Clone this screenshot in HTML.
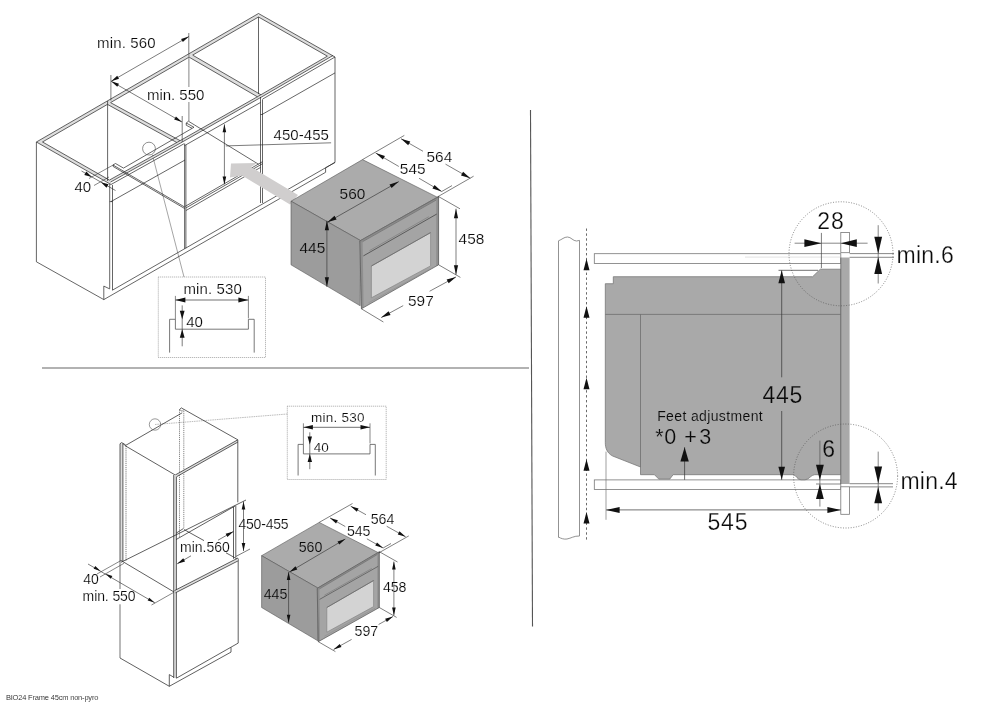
<!DOCTYPE html>
<html><head><meta charset="utf-8"><title>BIO24 Frame 45cm non-pyro</title>
<style>
html,body{margin:0;padding:0;background:#fff;}
body{width:1000px;height:707px;overflow:hidden;font-family:"Liberation Sans",sans-serif;}
svg{display:block;font-family:"Liberation Sans",sans-serif;}
</style></head><body>
<svg width="1000" height="707" viewBox="0 0 1000 707">
<rect width="1000" height="707" fill="#fff"/>
<defs><filter id="idf" x="0" y="0" width="1000" height="707" filterUnits="userSpaceOnUse"><feOffset dx="0" dy="0"/></filter></defs>
<g filter="url(#idf)">
<line x1="42.00" y1="368.00" x2="529.00" y2="368.00" stroke="#b2b2b2" stroke-width="2" />
<line x1="530.50" y1="110.00" x2="532.50" y2="626.50" stroke="#555" stroke-width="1.1" />
<text x="5.90" y="699.80" font-size="7.5" text-anchor="start" fill="#222" textLength="92.5" lengthAdjust="spacing" stroke="#fff" stroke-width="0.08" paint-order="fill stroke" >BIO24 Frame 45cm non-pyro</text>
<path d="M558.50,537.50 L558.50,240.80" fill="none" stroke="#777" stroke-width="0.8" stroke-linejoin="miter" />
<path d="M558.5,240.8 C562,239.5 564,237 567.5,237 C571,237 573,241 576.5,241 L579.5,240.4" fill="none" stroke="#777" stroke-width="0.8"/>
<path d="M579.50,240.40 L579.50,536.00" fill="none" stroke="#777" stroke-width="0.8" stroke-linejoin="miter" />
<path d="M558.5,537 C561,538.5 564,539.5 567,539 C571,538.3 574,535.8 579.5,536" fill="none" stroke="#777" stroke-width="0.8"/>
<line x1="586.50" y1="228.50" x2="586.50" y2="541.80" stroke="#444" stroke-width="0.8" stroke-dasharray="2.4 2.5"/>
<polygon points="586.50,258.80 589.50,270.30 583.50,270.30" fill="#111" stroke="none" stroke-width="0"/>
<polygon points="586.50,306.30 589.50,317.80 583.50,317.80" fill="#111" stroke="none" stroke-width="0"/>
<polygon points="586.50,377.80 589.50,389.30 583.50,389.30" fill="#111" stroke="none" stroke-width="0"/>
<polygon points="586.50,459.20 589.50,470.70 583.50,470.70" fill="#111" stroke="none" stroke-width="0"/>
<polygon points="586.50,512.00 589.50,523.50 583.50,523.50" fill="#111" stroke="none" stroke-width="0"/>
<rect x="594.3" y="253.7" width="246.5" height="9.7" fill="#fff" stroke="#777" stroke-width="0.8"/>
<rect x="594.3" y="479.9" width="246.5" height="9.5" fill="#fff" stroke="#777" stroke-width="0.8"/>
<line x1="745.00" y1="257.10" x2="840.80" y2="257.10" stroke="#cfcfcf" stroke-width="0.6" />
<path d="M613.3,276.7 L812.6,276.7 L820.3,269.2 L840.8,269.2 L840.8,474.7 L814.8,474.7 C811,474.7 809,479.8 805,479.8 L801,479.8 C797,479.8 796,474.7 793,474.7 L673.1,474.7 L669.8,479.1 L658.8,479.1 L654.4,474.7 L640.5,474.7 L640.5,467 L612.6,456 C607,453 605.3,448 605.3,442.8 L605.3,283.7 L613.3,283.7 Z" fill="#a9a9a9" stroke="#6e6e6e" stroke-width="0.7"/>
<line x1="605.30" y1="314.40" x2="840.80" y2="314.40" stroke="#666" stroke-width="0.7" />
<line x1="640.50" y1="314.40" x2="640.50" y2="467.00" stroke="#666" stroke-width="0.7" />
<rect x="840.8" y="257.5" width="8.8" height="226.5" fill="#a9a9a9" stroke="none"/>
<line x1="840.80" y1="257.50" x2="840.80" y2="484.00" stroke="#666" stroke-width="0.8" />
<rect x="840.8" y="232.5" width="8.8" height="20.2" fill="#fff" stroke="#777" stroke-width="0.8"/>
<rect x="840.8" y="486.8" width="8.8" height="27.5" fill="#fff" stroke="#777" stroke-width="0.8"/>
<circle cx="841" cy="253.8" r="52" fill="none" stroke="#555" stroke-width="0.7" stroke-dasharray="1 1.6"/>
<circle cx="845.6" cy="476" r="52" fill="none" stroke="#555" stroke-width="0.7" stroke-dasharray="1 1.6"/>
<line x1="794.60" y1="243.20" x2="867.60" y2="243.20" stroke="#555" stroke-width="0.7" />
<polygon points="821.40,243.20 804.40,247.10 804.40,239.30" fill="#111" stroke="none" stroke-width="0"/>
<polygon points="840.80,243.20 856.80,239.30 856.80,247.10" fill="#111" stroke="none" stroke-width="0"/>
<line x1="821.40" y1="232.90" x2="821.40" y2="268.10" stroke="#444" stroke-width="0.7" />
<line x1="878.20" y1="225.20" x2="878.20" y2="283.50" stroke="#555" stroke-width="0.7" />
<polygon points="878.20,253.80 874.30,236.80 882.10,236.80" fill="#111" stroke="none" stroke-width="0"/>
<polygon points="878.20,257.10 882.10,274.10 874.30,274.10" fill="#111" stroke="none" stroke-width="0"/>
<line x1="849.60" y1="253.60" x2="894.00" y2="253.60" stroke="#555" stroke-width="0.7" />
<line x1="849.60" y1="257.30" x2="894.00" y2="257.30" stroke="#555" stroke-width="0.7" />
<line x1="781.70" y1="270.30" x2="781.70" y2="377.30" stroke="#333" stroke-width="0.7" />
<line x1="781.70" y1="411.00" x2="781.70" y2="479.80" stroke="#333" stroke-width="0.7" />
<polygon points="781.70,270.30 785.00,283.30 778.40,283.30" fill="#111" stroke="none" stroke-width="0"/>
<polygon points="781.70,479.80 778.40,466.80 785.00,466.80" fill="#111" stroke="none" stroke-width="0"/>
<line x1="778.50" y1="270.30" x2="818.10" y2="270.30" stroke="#333" stroke-width="0.7" />
<line x1="819.90" y1="440.60" x2="819.90" y2="506.60" stroke="#555" stroke-width="0.7" />
<polygon points="819.90,480.20 816.00,464.80 823.80,464.80" fill="#111" stroke="none" stroke-width="0"/>
<polygon points="819.90,484.00 823.80,499.00 816.00,499.00" fill="#111" stroke="none" stroke-width="0"/>
<line x1="816.00" y1="484.00" x2="840.80" y2="484.00" stroke="#555" stroke-width="0.7" />
<line x1="878.20" y1="451.60" x2="878.20" y2="510.60" stroke="#555" stroke-width="0.7" />
<polygon points="878.20,483.50 874.30,466.50 882.10,466.50" fill="#111" stroke="none" stroke-width="0"/>
<polygon points="878.20,486.80 882.10,503.30 874.30,503.30" fill="#111" stroke="none" stroke-width="0"/>
<line x1="849.60" y1="483.70" x2="893.00" y2="483.70" stroke="#555" stroke-width="0.7" />
<line x1="849.60" y1="486.90" x2="893.00" y2="486.90" stroke="#555" stroke-width="0.7" />
<line x1="606.00" y1="509.90" x2="840.80" y2="509.90" stroke="#333" stroke-width="0.7" />
<polygon points="606.00,509.90 619.60,506.90 619.60,512.90" fill="#111" stroke="none" stroke-width="0"/>
<polygon points="840.80,509.90 827.40,512.90 827.40,506.90" fill="#111" stroke="none" stroke-width="0"/>
<line x1="606.00" y1="451.60" x2="606.00" y2="519.80" stroke="#777" stroke-width="0.7" />
<line x1="684.60" y1="447.20" x2="684.60" y2="479.80" stroke="#333" stroke-width="0.7" />
<polygon points="684.60,447.20 688.80,461.50 680.40,461.50" fill="#111" stroke="none" stroke-width="0"/>
<text x="817.30" y="229.20" font-size="23" text-anchor="start" fill="#0a0a0a" textLength="26.5" lengthAdjust="spacing" stroke="#fff" stroke-width="0.25" paint-order="fill stroke" >28</text>
<text x="896.50" y="262.60" font-size="23" text-anchor="start" fill="#0a0a0a" textLength="57.3" lengthAdjust="spacing" stroke="#fff" stroke-width="0.25" paint-order="fill stroke" >min.6</text>
<text x="762.40" y="402.60" font-size="23" text-anchor="start" fill="#0a0a0a" textLength="39.8" lengthAdjust="spacing" stroke="#a9a9a9" stroke-width="0.25" paint-order="fill stroke" >445</text>
<text x="657.20" y="420.50" font-size="14" text-anchor="start" fill="#0a0a0a" textLength="105.5" lengthAdjust="spacing" stroke="#a9a9a9" stroke-width="0.15" paint-order="fill stroke" >Feet adjustment</text>
<text x="655.30" y="444.00" font-size="21.5" text-anchor="start" fill="#0a0a0a" stroke="#a9a9a9" stroke-width="0.24" paint-order="fill stroke" >*</text>
<text x="664.20" y="444.00" font-size="21.5" text-anchor="start" fill="#0a0a0a" stroke="#a9a9a9" stroke-width="0.24" paint-order="fill stroke" >0</text>
<text x="684.20" y="444.00" font-size="21.5" text-anchor="start" fill="#0a0a0a" stroke="#a9a9a9" stroke-width="0.24" paint-order="fill stroke" >+</text>
<text x="699.30" y="444.00" font-size="21.5" text-anchor="start" fill="#0a0a0a" stroke="#a9a9a9" stroke-width="0.24" paint-order="fill stroke" >3</text>
<text x="822.30" y="457.10" font-size="23" text-anchor="start" fill="#0a0a0a" stroke="#a9a9a9" stroke-width="0.25" paint-order="fill stroke" >6</text>
<text x="900.50" y="489.00" font-size="23" text-anchor="start" fill="#0a0a0a" textLength="57" lengthAdjust="spacing" stroke="#fff" stroke-width="0.25" paint-order="fill stroke" >min.4</text>
<text x="707.50" y="529.70" font-size="23" text-anchor="start" fill="#0a0a0a" textLength="40" lengthAdjust="spacing" stroke="#fff" stroke-width="0.25" paint-order="fill stroke" >545</text>
<rect x="158.3" y="277" width="107.20" height="80.50" fill="none" stroke="#666" stroke-width="0.65" stroke-dasharray="0.9 1.1"/>
<path d="M169.60,352.60 L169.60,319.30 L175.40,319.30 L175.40,329.20 L248.40,329.20 L248.40,319.30 L254.20,319.30 L254.20,352.60" fill="none" stroke="#555" stroke-width="0.8" stroke-linejoin="miter" />
<line x1="175.40" y1="295.90" x2="175.40" y2="319.30" stroke="#555" stroke-width="0.7" />
<line x1="248.40" y1="295.90" x2="248.40" y2="318.30" stroke="#555" stroke-width="0.7" />
<line x1="175.40" y1="300.00" x2="248.40" y2="300.00" stroke="#333" stroke-width="0.7" />
<polygon points="175.40,300.00 185.40,297.60 185.40,302.40" fill="#111" stroke="none" stroke-width="0"/>
<polygon points="248.40,300.00 238.40,302.40 238.40,297.60" fill="#111" stroke="none" stroke-width="0"/>
<line x1="182.20" y1="305.40" x2="182.20" y2="346.30" stroke="#444" stroke-width="0.7" />
<polygon points="182.20,319.30 179.80,310.80 184.60,310.80" fill="#111" stroke="none" stroke-width="0"/>
<polygon points="182.20,329.20 184.60,337.70 179.80,337.70" fill="#111" stroke="none" stroke-width="0"/>
<text x="183.50" y="294.10" font-size="15" text-anchor="start" fill="#0a0a0a" textLength="58.3" lengthAdjust="spacing" stroke="#fff" stroke-width="0.16" paint-order="fill stroke" >min. 530</text>
<text x="186.20" y="327.00" font-size="15" text-anchor="start" fill="#0a0a0a" stroke="#fff" stroke-width="0.16" paint-order="fill stroke" >40</text>
<rect x="287.3" y="406.2" width="98.90" height="73.30" fill="none" stroke="#666" stroke-width="0.65" stroke-dasharray="0.9 1.1"/>
<path d="M298.10,475.50 L298.10,444.40 L303.40,444.40 L303.40,453.90 L370.00,453.90 L370.00,444.40 L375.30,444.40 L375.30,475.50" fill="none" stroke="#555" stroke-width="0.8" stroke-linejoin="miter" />
<line x1="303.40" y1="423.30" x2="303.40" y2="444.40" stroke="#555" stroke-width="0.7" />
<line x1="370.00" y1="423.30" x2="370.00" y2="443.40" stroke="#555" stroke-width="0.7" />
<line x1="303.40" y1="427.30" x2="370.00" y2="427.30" stroke="#333" stroke-width="0.7" />
<polygon points="303.40,427.30 312.90,425.10 312.90,429.50" fill="#111" stroke="none" stroke-width="0"/>
<polygon points="370.00,427.30 360.50,429.50 360.50,425.10" fill="#111" stroke="none" stroke-width="0"/>
<line x1="309.80" y1="432.30" x2="309.80" y2="469.20" stroke="#444" stroke-width="0.7" />
<polygon points="309.80,444.40 307.60,436.40 312.00,436.40" fill="#111" stroke="none" stroke-width="0"/>
<polygon points="309.80,453.90 312.00,461.90 307.60,461.90" fill="#111" stroke="none" stroke-width="0"/>
<text x="311.00" y="421.50" font-size="13.5" text-anchor="start" fill="#0a0a0a" textLength="53.5" lengthAdjust="spacing" stroke="#fff" stroke-width="0.15" paint-order="fill stroke" >min. 530</text>
<text x="313.80" y="451.70" font-size="13.5" text-anchor="start" fill="#0a0a0a" stroke="#fff" stroke-width="0.15" paint-order="fill stroke" >40</text>
<line x1="152.40" y1="154.80" x2="184.00" y2="277.00" stroke="#4a4a4a" stroke-width="0.5" />
<line x1="155.00" y1="424.50" x2="287.30" y2="414.00" stroke="#888" stroke-width="0.55" stroke-dasharray="1.6 0.7"/>
<polygon points="36.40,142.00 111.00,184.50 109.40,180.09 42.50,141.97" fill="#dedede" stroke="none" stroke-width="0"/>
<polygon points="36.40,142.00 258.50,13.50 258.50,17.00 42.50,141.97" fill="#dedede" stroke="none" stroke-width="0"/>
<polygon points="258.50,13.50 335.00,57.00 327.35,56.15 258.50,17.00" fill="#dedede" stroke="none" stroke-width="0"/>
<polygon points="109.60,179.98 180.00,140.70 261.00,94.70 328.40,55.54 333.00,55.46 261.00,97.30 180.00,143.30 110.60,182.02" fill="#dedede" stroke="none" stroke-width="0"/>
<path d="M36.40,142.00 L111.00,184.50" fill="none" stroke="#242424" stroke-width="0.7" stroke-linejoin="miter" />
<path d="M36.40,142.00 L258.50,13.50" fill="none" stroke="#242424" stroke-width="0.7" stroke-linejoin="miter" />
<path d="M258.50,13.50 L335.00,57.00" fill="none" stroke="#242424" stroke-width="0.7" stroke-linejoin="miter" />
<line x1="42.50" y1="141.97" x2="109.40" y2="180.09" stroke="#242424" stroke-width="0.7" />
<line x1="42.50" y1="141.97" x2="107.45" y2="104.40" stroke="#242424" stroke-width="0.7" />
<line x1="110.53" y1="102.61" x2="189.08" y2="57.17" stroke="#242424" stroke-width="0.7" />
<line x1="192.62" y1="55.12" x2="258.50" y2="17.00" stroke="#242424" stroke-width="0.7" />
<line x1="258.50" y1="17.00" x2="327.35" y2="56.15" stroke="#242424" stroke-width="0.7" />
<polygon points="107.45,104.40 176.75,142.51 180.08,140.65 110.53,102.61" fill="#dedede" stroke="none" stroke-width="0"/>
<line x1="107.45" y1="104.40" x2="176.75" y2="142.51" stroke="#242424" stroke-width="0.7" />
<line x1="110.53" y1="102.61" x2="180.08" y2="140.65" stroke="#242424" stroke-width="0.7" />
<polygon points="189.08,57.17 257.36,96.77 260.93,94.74 192.62,55.12" fill="#dedede" stroke="none" stroke-width="0"/>
<line x1="189.08" y1="57.17" x2="257.36" y2="96.77" stroke="#242424" stroke-width="0.7" />
<line x1="192.62" y1="55.12" x2="260.93" y2="94.74" stroke="#242424" stroke-width="0.7" />
<path d="M109.40,180.09 L111.00,179.20 L180.00,140.70 L261.00,94.70 L327.35,56.15" fill="none" stroke="#242424" stroke-width="0.7" stroke-linejoin="miter" />
<path d="M110.40,182.13 L111.00,181.80 L180.00,143.30 L261.00,97.30 L333.00,55.46" fill="none" stroke="#242424" stroke-width="0.7" stroke-linejoin="miter" />
<path d="M111.00,184.50 L180.00,146.00 L183.90,143.79" fill="none" stroke="#242424" stroke-width="0.7" stroke-linejoin="miter" />
<path d="M262.50,99.13 L335.00,57.00" fill="none" stroke="#242424" stroke-width="0.7" stroke-linejoin="miter" />
<path d="M184.60,145.59 L260.50,102.48" fill="none" stroke="#242424" stroke-width="0.7" stroke-linejoin="miter" />
<line x1="36.40" y1="142.00" x2="36.40" y2="261.80" stroke="#242424" stroke-width="0.7" />
<line x1="109.70" y1="184.00" x2="109.70" y2="288.80" stroke="#242424" stroke-width="0.7" />
<line x1="112.50" y1="185.00" x2="112.50" y2="290.20" stroke="#242424" stroke-width="0.7" />
<line x1="258.50" y1="17.00" x2="258.50" y2="94.00" stroke="#242424" stroke-width="0.7" />
<line x1="335.00" y1="57.00" x2="335.00" y2="162.40" stroke="#242424" stroke-width="0.7" />
<line x1="184.60" y1="143.50" x2="184.60" y2="248.80" stroke="#242424" stroke-width="0.7" />
<line x1="185.90" y1="145.00" x2="185.90" y2="248.20" stroke="#242424" stroke-width="0.7" />
<line x1="260.50" y1="97.00" x2="260.50" y2="203.00" stroke="#242424" stroke-width="0.7" />
<line x1="262.50" y1="99.50" x2="262.50" y2="203.00" stroke="#242424" stroke-width="0.7" />
<line x1="107.60" y1="101.00" x2="107.60" y2="181.00" stroke="#242424" stroke-width="0.7" />
<line x1="188.90" y1="54.50" x2="188.90" y2="87.00" stroke="#777" stroke-width="0.9" />
<line x1="188.90" y1="102.00" x2="188.90" y2="121.00" stroke="#777" stroke-width="0.9" />
<line x1="111.00" y1="201.60" x2="185.00" y2="160.00" stroke="#242424" stroke-width="0.7" />
<line x1="109.70" y1="201.60" x2="112.50" y2="201.60" stroke="#242424" stroke-width="0.7" />
<line x1="262.00" y1="114.50" x2="335.00" y2="72.90" stroke="#242424" stroke-width="0.7" />
<line x1="260.50" y1="114.50" x2="262.50" y2="114.50" stroke="#242424" stroke-width="0.7" />
<line x1="112.40" y1="290.20" x2="335.00" y2="162.40" stroke="#242424" stroke-width="0.7" />
<line x1="103.80" y1="299.60" x2="325.60" y2="172.30" stroke="#242424" stroke-width="0.7" />
<line x1="36.40" y1="261.80" x2="103.80" y2="299.60" stroke="#242424" stroke-width="0.7" />
<path d="M103.80,299.60 L103.80,286.10 L109.70,288.90" fill="none" stroke="#242424" stroke-width="0.7" stroke-linejoin="miter" />
<path d="M335.00,162.40 L325.60,167.80 L325.60,172.30" fill="none" stroke="#242424" stroke-width="0.7" stroke-linejoin="miter" />
<line x1="185.20" y1="206.37" x2="262.50" y2="161.69" stroke="#242424" stroke-width="0.7" />
<line x1="185.90" y1="207.97" x2="262.50" y2="163.69" stroke="#242424" stroke-width="0.7" />
<line x1="185.90" y1="210.57" x2="260.50" y2="167.45" stroke="#242424" stroke-width="0.7" />
<line x1="113.00" y1="165.00" x2="184.60" y2="207.00" stroke="#242424" stroke-width="0.7" />
<line x1="113.20" y1="166.50" x2="184.60" y2="208.50" stroke="#242424" stroke-width="0.7" />
<line x1="188.50" y1="121.25" x2="258.60" y2="164.30" stroke="#242424" stroke-width="0.7" />
<path d="M123.50,168.10 L115.50,163.50 L113.00,165.00 L113.20,166.50" fill="none" stroke="#242424" stroke-width="0.7" stroke-linejoin="miter" />
<line x1="123.50" y1="168.10" x2="194.00" y2="127.25" stroke="#242424" stroke-width="0.7" />
<path d="M188.50,121.25 L186.25,123.00 L186.25,125.25 L192.00,128.25" fill="none" stroke="#242424" stroke-width="0.7" stroke-linejoin="miter" />
<line x1="186.25" y1="123.00" x2="194.00" y2="127.25" stroke="#242424" stroke-width="0.7" />
<circle cx="149" cy="148.6" r="6.4" fill="none" stroke="#444" stroke-width="0.6"/>
<line x1="110.90" y1="75.00" x2="110.90" y2="100.50" stroke="#242424" stroke-width="0.6" />
<line x1="188.80" y1="33.00" x2="188.80" y2="54.50" stroke="#242424" stroke-width="0.6" />
<line x1="111.20" y1="81.30" x2="188.90" y2="36.50" stroke="#242424" stroke-width="0.6" />
<polygon points="111.20,81.30 117.23,75.74 119.03,78.86" fill="#111" stroke="none" stroke-width="0"/>
<polygon points="188.90,36.50 182.87,42.06 181.07,38.94" fill="#111" stroke="none" stroke-width="0"/>
<line x1="111.20" y1="81.30" x2="182.00" y2="122.00" stroke="#242424" stroke-width="0.6" />
<polygon points="111.20,81.30 119.03,83.73 117.24,86.85" fill="#111" stroke="none" stroke-width="0"/>
<polygon points="182.00,122.00 174.17,119.57 175.96,116.45" fill="#111" stroke="none" stroke-width="0"/>
<line x1="182.20" y1="116.00" x2="182.20" y2="142.00" stroke="#242424" stroke-width="0.6" />
<line x1="81.50" y1="171.00" x2="115.50" y2="190.50" stroke="#242424" stroke-width="0.6" />
<polygon points="91.80,176.90 84.30,174.90 86.29,171.43" fill="#111" stroke="none" stroke-width="0"/>
<polygon points="101.00,182.20 108.50,184.20 106.51,187.67" fill="#111" stroke="none" stroke-width="0"/>
<line x1="89.00" y1="178.50" x2="113.50" y2="164.80" stroke="#242424" stroke-width="0.55" />
<line x1="94.00" y1="185.50" x2="109.00" y2="177.00" stroke="#242424" stroke-width="0.55" />
<line x1="224.40" y1="124.30" x2="224.40" y2="184.30" stroke="#242424" stroke-width="0.6" />
<polygon points="224.40,124.30 226.20,132.30 222.60,132.30" fill="#111" stroke="none" stroke-width="0"/>
<polygon points="224.40,184.50 222.60,176.50 226.20,176.50" fill="#111" stroke="none" stroke-width="0"/>
<line x1="225.80" y1="145.90" x2="331.10" y2="142.80" stroke="#242424" stroke-width="0.6" />
<polygon points="231.00,163.50 257.00,163.00 251.00,167.00 298.00,195.00 290.00,204.50 242.00,175.50 230.00,177.50" fill="#d0cece" stroke="none" stroke-width="0"/>
<text x="97.00" y="48.00" font-size="15" text-anchor="start" fill="#0a0a0a" textLength="58.6" lengthAdjust="spacing" stroke="#fff" stroke-width="0.16" paint-order="fill stroke" >min. 560</text>
<text x="147.00" y="100.00" font-size="15" text-anchor="start" fill="#0a0a0a" textLength="57.3" lengthAdjust="spacing" stroke="#fff" stroke-width="0.16" paint-order="fill stroke" >min. 550</text>
<text x="74.50" y="191.60" font-size="15" text-anchor="start" fill="#0a0a0a" stroke="#fff" stroke-width="0.16" paint-order="fill stroke" >40</text>
<text x="273.50" y="139.60" font-size="15" text-anchor="start" fill="#0a0a0a" textLength="55.4" lengthAdjust="spacing" stroke="#fff" stroke-width="0.16" paint-order="fill stroke" >450-455</text>
<rect x="120" y="443.5" width="2.9" height="117.5" fill="#dedede"/>
<line x1="120.00" y1="443.80" x2="120.00" y2="561.00" stroke="#222" stroke-width="0.72" />
<line x1="122.90" y1="443.60" x2="122.90" y2="561.00" stroke="#222" stroke-width="0.72" />
<line x1="126.00" y1="446.00" x2="126.00" y2="561.50" stroke="#222" stroke-width="0.6" stroke-dasharray="1.2 0.9"/>
<path d="M120.00,443.80 L121.60,442.60 L125.60,444.90 L125.60,446.00" fill="none" stroke="#222" stroke-width="0.72" stroke-linejoin="miter" />
<line x1="122.90" y1="443.60" x2="125.60" y2="446.00" stroke="#222" stroke-width="0.5" />
<line x1="179.50" y1="409.60" x2="179.50" y2="537.00" stroke="#333" stroke-width="0.6" stroke-dasharray="1.2 0.9"/>
<line x1="183.80" y1="411.00" x2="183.80" y2="528.50" stroke="#333" stroke-width="0.6" stroke-dasharray="1.2 0.9"/>
<path d="M179.50,409.60 L181.30,407.90" fill="none" stroke="#222" stroke-width="0.72" stroke-linejoin="miter" />
<path d="M179.50,409.60 L182.20,411.30 L183.90,409.50" fill="none" stroke="#222" stroke-width="0.5" stroke-linejoin="miter" />
<line x1="126.00" y1="445.20" x2="182.20" y2="412.80" stroke="#222" stroke-width="0.72" />
<line x1="181.30" y1="407.90" x2="237.80" y2="439.80" stroke="#222" stroke-width="0.72" />
<line x1="126.00" y1="446.20" x2="175.20" y2="475.00" stroke="#222" stroke-width="0.72" />
<polygon points="175.20,475.00 237.80,439.80 237.80,442.10 176.80,476.60" fill="#dedede" stroke="none" stroke-width="0"/>
<line x1="175.20" y1="475.00" x2="237.80" y2="439.80" stroke="#222" stroke-width="0.72" />
<line x1="176.80" y1="476.60" x2="237.80" y2="442.10" stroke="#222" stroke-width="0.72" />
<rect x="173.7" y="475.5" width="2.7" height="202.5" fill="#dedede"/>
<line x1="173.70" y1="475.00" x2="173.70" y2="678.00" stroke="#222" stroke-width="0.72" />
<line x1="176.40" y1="476.50" x2="176.40" y2="678.20" stroke="#222" stroke-width="0.72" />
<line x1="237.80" y1="439.80" x2="237.80" y2="502.30" stroke="#222" stroke-width="0.72" />
<line x1="238.20" y1="558.50" x2="238.20" y2="643.10" stroke="#222" stroke-width="0.72" />
<line x1="233.50" y1="507.00" x2="233.50" y2="558.80" stroke="#222" stroke-width="0.72" />
<line x1="235.80" y1="505.60" x2="235.80" y2="557.60" stroke="#222" stroke-width="0.72" />
<line x1="120.00" y1="561.00" x2="120.00" y2="589.00" stroke="#5a5a5a" stroke-width="0.85" />
<line x1="120.00" y1="604.30" x2="120.00" y2="658.00" stroke="#5a5a5a" stroke-width="0.85" />
<line x1="121.00" y1="562.30" x2="246.00" y2="500.00" stroke="#222" stroke-width="0.72" />
<line x1="176.20" y1="539.50" x2="235.00" y2="506.00" stroke="#222" stroke-width="0.72" />
<line x1="183.50" y1="528.50" x2="176.40" y2="533.00" stroke="#222" stroke-width="0.72" />
<line x1="184.00" y1="529.50" x2="204.00" y2="540.60" stroke="#222" stroke-width="0.72" />
<line x1="226.00" y1="552.80" x2="238.00" y2="559.50" stroke="#222" stroke-width="0.72" />
<line x1="121.00" y1="560.50" x2="174.00" y2="592.00" stroke="#222" stroke-width="0.72" />
<polygon points="175.60,590.20 238.00,558.00 238.00,560.80 176.40,592.60" fill="#dedede" stroke="none" stroke-width="0"/>
<line x1="174.50" y1="590.60" x2="238.00" y2="558.00" stroke="#222" stroke-width="0.72" />
<line x1="175.50" y1="592.80" x2="238.20" y2="560.80" stroke="#222" stroke-width="0.72" />
<line x1="235.80" y1="556.50" x2="250.00" y2="549.00" stroke="#222" stroke-width="0.6" />
<line x1="120.00" y1="658.00" x2="169.30" y2="686.30" stroke="#222" stroke-width="0.72" />
<path d="M169.30,686.30 L169.30,674.60 L173.70,677.20" fill="none" stroke="#222" stroke-width="0.72" stroke-linejoin="miter" />
<line x1="176.40" y1="678.20" x2="238.20" y2="643.10" stroke="#222" stroke-width="0.72" />
<line x1="169.30" y1="686.30" x2="231.00" y2="652.10" stroke="#222" stroke-width="0.72" />
<line x1="231.00" y1="647.40" x2="231.00" y2="652.10" stroke="#222" stroke-width="0.72" />
<circle cx="155" cy="424.5" r="5.7" fill="none" stroke="#555" stroke-width="0.6"/>
<line x1="88.00" y1="564.00" x2="155.00" y2="603.00" stroke="#222" stroke-width="0.6" />
<polygon points="100.50,571.00 93.65,568.86 95.26,566.10" fill="#111" stroke="none" stroke-width="0"/>
<polygon points="105.50,573.80 112.35,575.94 110.74,578.70" fill="#111" stroke="none" stroke-width="0"/>
<polygon points="154.50,602.60 147.65,600.46 149.26,597.70" fill="#111" stroke="none" stroke-width="0"/>
<line x1="97.00" y1="574.00" x2="121.00" y2="560.50" stroke="#222" stroke-width="0.55" />
<line x1="100.00" y1="577.00" x2="124.00" y2="563.30" stroke="#222" stroke-width="0.55" />
<line x1="151.50" y1="605.00" x2="173.50" y2="592.50" stroke="#222" stroke-width="0.55" />
<line x1="177.20" y1="563.80" x2="191.00" y2="555.80" stroke="#222" stroke-width="0.6" />
<line x1="218.00" y1="540.20" x2="233.50" y2="531.40" stroke="#222" stroke-width="0.6" />
<polygon points="177.20,563.80 183.28,558.30 185.05,561.43" fill="#111" stroke="none" stroke-width="0"/>
<polygon points="233.50,531.40 227.42,536.90 225.65,533.77" fill="#111" stroke="none" stroke-width="0"/>
<line x1="243.50" y1="501.50" x2="243.50" y2="551.00" stroke="#222" stroke-width="0.6" />
<polygon points="243.50,501.50 245.30,509.50 241.70,509.50" fill="#111" stroke="none" stroke-width="0"/>
<polygon points="243.50,551.00 241.70,543.00 245.30,543.00" fill="#111" stroke="none" stroke-width="0"/>
<text x="83.30" y="584.00" font-size="14" text-anchor="start" fill="#0a0a0a" stroke="#fff" stroke-width="0.15" paint-order="fill stroke" >40</text>
<text x="82.60" y="601.40" font-size="14" text-anchor="start" fill="#0a0a0a" textLength="53" lengthAdjust="spacing" stroke="#fff" stroke-width="0.15" paint-order="fill stroke" >min. 550</text>
<text x="180.00" y="552.00" font-size="14" text-anchor="start" fill="#0a0a0a" textLength="49.8" lengthAdjust="spacing" stroke="#fff" stroke-width="0.15" paint-order="fill stroke" >min.560</text>
<text x="238.40" y="529.20" font-size="14" text-anchor="start" fill="#0a0a0a" textLength="50.2" lengthAdjust="spacing" stroke="#fff" stroke-width="0.15" paint-order="fill stroke" >450-455</text>
<polygon points="291.00,201.20 362.50,159.60 437.30,197.20 360.60,240.60" fill="#ababab" stroke="#555" stroke-width="0.6"/>
<polygon points="291.00,201.20 360.60,240.60 360.20,305.80 291.00,264.80" fill="#9c9c9c" stroke="#555" stroke-width="0.6"/>
<polygon points="359.80,240.90 438.60,196.60 438.60,264.80 361.40,308.80" fill="#a4a4a4" stroke="none" stroke-width="0"/>
<polygon points="359.80,240.90 362.60,239.50 363.60,307.26 361.40,308.80" fill="#8f8f8f" stroke="none" stroke-width="0"/>
<polygon points="436.20,197.90 438.60,196.60 438.60,264.80 436.20,266.10" fill="#8f8f8f" stroke="none" stroke-width="0"/>
<polygon points="359.80,240.90 438.60,196.60 438.60,198.60 359.80,242.90" fill="#8a8a8a" stroke="none" stroke-width="0"/>
<line x1="359.80" y1="240.90" x2="438.60" y2="196.60" stroke="#5c5c5c" stroke-width="0.7" />
<line x1="362.60" y1="241.70" x2="436.20" y2="200.10" stroke="#666" stroke-width="0.6" />
<path d="M359.80,240.90 L361.40,308.80 L438.60,264.80 L438.60,196.60" fill="none" stroke="#555" stroke-width="0.7" stroke-linejoin="miter" />
<line x1="363.40" y1="255.90" x2="436.80" y2="214.00" stroke="#5a5a5a" stroke-width="1.0" />
<line x1="369.40" y1="250.70" x2="428.80" y2="216.70" stroke="#777" stroke-width="0.6" />
<polygon points="371.40,266.00 430.60,232.60 430.60,265.90 371.40,297.80" fill="#d3d3d3" stroke="#858585" stroke-width="0.7"/>
<line x1="371.40" y1="266.00" x2="430.60" y2="232.60" stroke="#6e6e6e" stroke-width="0.9" />
<line x1="368.40" y1="302.80" x2="433.10" y2="267.50" stroke="#8a8a8a" stroke-width="0.5" />
<polygon points="261.60,555.70 319.20,522.40 378.60,552.80 317.80,588.00" fill="#ababab" stroke="#555" stroke-width="0.6"/>
<polygon points="261.60,555.70 317.80,588.00 317.80,640.80 261.60,607.50" fill="#9c9c9c" stroke="#555" stroke-width="0.6"/>
<polygon points="317.20,588.30 379.30,551.70 379.30,607.50 318.30,641.70" fill="#a4a4a4" stroke="none" stroke-width="0"/>
<polygon points="317.20,588.30 319.44,587.18 320.06,640.47 318.30,641.70" fill="#8f8f8f" stroke="none" stroke-width="0"/>
<polygon points="377.38,552.74 379.30,551.70 379.30,607.50 377.38,608.54" fill="#8f8f8f" stroke="none" stroke-width="0"/>
<polygon points="317.20,588.30 379.30,551.70 379.30,553.30 317.20,589.90" fill="#8a8a8a" stroke="none" stroke-width="0"/>
<line x1="317.20" y1="588.30" x2="379.30" y2="551.70" stroke="#5c5c5c" stroke-width="0.7" />
<line x1="319.44" y1="588.94" x2="377.38" y2="554.50" stroke="#666" stroke-width="0.6" />
<path d="M317.20,588.30 L318.30,641.70 L379.30,607.50 L379.30,551.70" fill="none" stroke="#555" stroke-width="0.7" stroke-linejoin="miter" />
<line x1="319.60" y1="599.40" x2="378.20" y2="566.30" stroke="#5a5a5a" stroke-width="0.8" />
<line x1="324.40" y1="595.24" x2="371.80" y2="568.46" stroke="#777" stroke-width="0.6" />
<polygon points="326.80,607.50 373.60,580.50 373.60,606.60 326.80,632.20" fill="#d3d3d3" stroke="#858585" stroke-width="0.7"/>
<line x1="326.80" y1="607.50" x2="373.60" y2="580.50" stroke="#6e6e6e" stroke-width="0.9" />
<line x1="324.40" y1="636.20" x2="375.60" y2="607.88" stroke="#8a8a8a" stroke-width="0.5" />
<line x1="362.50" y1="159.60" x2="404.30" y2="135.40" stroke="#2a2a2a" stroke-width="0.6" />
<line x1="437.30" y1="197.00" x2="473.60" y2="176.20" stroke="#2a2a2a" stroke-width="0.6" />
<line x1="401.00" y1="138.70" x2="423.00" y2="151.27" stroke="#2a2a2a" stroke-width="0.6" />
<line x1="445.50" y1="164.13" x2="470.30" y2="178.30" stroke="#2a2a2a" stroke-width="0.6" />
<polygon points="401.00,138.70 410.29,141.59 408.21,145.24" fill="#111" stroke="none" stroke-width="0"/>
<polygon points="470.30,178.30 461.01,175.41 463.09,171.76" fill="#111" stroke="none" stroke-width="0"/>
<line x1="375.70" y1="153.00" x2="398.80" y2="166.48" stroke="#2a2a2a" stroke-width="0.6" />
<line x1="419.00" y1="178.26" x2="441.70" y2="191.50" stroke="#2a2a2a" stroke-width="0.6" />
<polygon points="375.70,153.00 384.96,155.97 382.85,159.60" fill="#111" stroke="none" stroke-width="0"/>
<polygon points="441.70,191.50 432.44,188.53 434.55,184.90" fill="#111" stroke="none" stroke-width="0"/>
<line x1="441.70" y1="191.50" x2="452.00" y2="185.60" stroke="#2a2a2a" stroke-width="0.6" />
<line x1="327.30" y1="222.30" x2="398.80" y2="181.60" stroke="#2a2a2a" stroke-width="0.6" />
<polygon points="327.30,222.30 334.52,215.78 336.59,219.43" fill="#111" stroke="none" stroke-width="0"/>
<polygon points="398.80,181.60 391.58,188.12 389.51,184.47" fill="#111" stroke="none" stroke-width="0"/>
<line x1="326.90" y1="220.80" x2="326.90" y2="286.80" stroke="#2a2a2a" stroke-width="0.6" />
<polygon points="326.90,220.80 329.00,230.30 324.80,230.30" fill="#111" stroke="none" stroke-width="0"/>
<polygon points="326.90,286.80 324.80,277.30 329.00,277.30" fill="#111" stroke="none" stroke-width="0"/>
<line x1="456.00" y1="208.70" x2="456.00" y2="274.70" stroke="#2a2a2a" stroke-width="0.6" />
<polygon points="456.00,208.70 458.10,218.20 453.90,218.20" fill="#111" stroke="none" stroke-width="0"/>
<polygon points="456.00,274.70 453.90,265.20 458.10,265.20" fill="#111" stroke="none" stroke-width="0"/>
<line x1="438.60" y1="196.60" x2="460.00" y2="208.80" stroke="#2a2a2a" stroke-width="0.6" />
<line x1="438.60" y1="264.80" x2="460.40" y2="277.40" stroke="#2a2a2a" stroke-width="0.6" />
<line x1="381.20" y1="317.60" x2="403.20" y2="305.63" stroke="#2a2a2a" stroke-width="0.6" />
<line x1="429.60" y1="291.26" x2="456.00" y2="276.90" stroke="#2a2a2a" stroke-width="0.6" />
<polygon points="381.20,317.60 388.54,311.21 390.55,314.90" fill="#111" stroke="none" stroke-width="0"/>
<polygon points="456.00,276.90 448.66,283.29 446.65,279.60" fill="#111" stroke="none" stroke-width="0"/>
<line x1="361.40" y1="308.80" x2="383.40" y2="322.00" stroke="#2a2a2a" stroke-width="0.6" />
<text x="426.40" y="161.80" font-size="15.4" text-anchor="start" fill="#0a0a0a" textLength="25.8" lengthAdjust="spacing" stroke="#fff" stroke-width="0.17" paint-order="fill stroke" >564</text>
<text x="399.80" y="174.00" font-size="15.4" text-anchor="start" fill="#0a0a0a" textLength="25.8" lengthAdjust="spacing" stroke="#fff" stroke-width="0.17" paint-order="fill stroke" >545</text>
<text x="339.60" y="198.90" font-size="15.4" text-anchor="start" fill="#0a0a0a" textLength="25.8" lengthAdjust="spacing" stroke="#ababab" stroke-width="0.17" paint-order="fill stroke" >560</text>
<text x="299.50" y="253.00" font-size="15.4" text-anchor="start" fill="#0a0a0a" textLength="25.8" lengthAdjust="spacing" stroke="#9c9c9c" stroke-width="0.17" paint-order="fill stroke" >445</text>
<text x="458.60" y="244.00" font-size="15.4" text-anchor="start" fill="#0a0a0a" textLength="25.8" lengthAdjust="spacing" stroke="#fff" stroke-width="0.17" paint-order="fill stroke" >458</text>
<text x="408.00" y="306.20" font-size="15.4" text-anchor="start" fill="#0a0a0a" textLength="25.8" lengthAdjust="spacing" stroke="#fff" stroke-width="0.17" paint-order="fill stroke" >597</text>
<line x1="319.20" y1="522.40" x2="352.50" y2="503.50" stroke="#2a2a2a" stroke-width="0.6" />
<line x1="378.60" y1="553.00" x2="408.80" y2="535.90" stroke="#2a2a2a" stroke-width="0.6" />
<line x1="350.70" y1="506.20" x2="366.00" y2="514.73" stroke="#2a2a2a" stroke-width="0.6" />
<line x1="386.70" y1="526.27" x2="405.60" y2="536.80" stroke="#2a2a2a" stroke-width="0.6" />
<polygon points="350.70,506.20 358.56,508.52 356.81,511.67" fill="#111" stroke="none" stroke-width="0"/>
<polygon points="405.60,536.80 397.74,534.48 399.49,531.33" fill="#111" stroke="none" stroke-width="0"/>
<line x1="330.00" y1="517.90" x2="345.30" y2="526.57" stroke="#2a2a2a" stroke-width="0.6" />
<line x1="366.90" y1="538.82" x2="383.10" y2="548.00" stroke="#2a2a2a" stroke-width="0.6" />
<polygon points="330.00,517.90 337.85,520.28 336.07,523.41" fill="#111" stroke="none" stroke-width="0"/>
<polygon points="383.10,548.00 375.25,545.62 377.03,542.49" fill="#111" stroke="none" stroke-width="0"/>
<line x1="383.10" y1="548.00" x2="391.00" y2="543.50" stroke="#2a2a2a" stroke-width="0.6" />
<line x1="289.50" y1="571.90" x2="345.30" y2="539.00" stroke="#2a2a2a" stroke-width="0.6" />
<polygon points="289.50,571.90 295.48,566.29 297.31,569.39" fill="#111" stroke="none" stroke-width="0"/>
<polygon points="345.30,539.00 339.32,544.61 337.49,541.51" fill="#111" stroke="none" stroke-width="0"/>
<line x1="288.60" y1="572.00" x2="288.60" y2="622.80" stroke="#2a2a2a" stroke-width="0.6" />
<polygon points="288.60,572.00 290.40,580.00 286.80,580.00" fill="#111" stroke="none" stroke-width="0"/>
<polygon points="288.60,622.80 286.80,614.80 290.40,614.80" fill="#111" stroke="none" stroke-width="0"/>
<line x1="393.90" y1="561.60" x2="393.90" y2="615.60" stroke="#2a2a2a" stroke-width="0.6" />
<polygon points="393.90,561.60 395.70,569.60 392.10,569.60" fill="#111" stroke="none" stroke-width="0"/>
<polygon points="393.90,615.60 392.10,607.60 395.70,607.60" fill="#111" stroke="none" stroke-width="0"/>
<line x1="379.30" y1="551.70" x2="397.50" y2="562.00" stroke="#2a2a2a" stroke-width="0.6" />
<line x1="379.30" y1="607.50" x2="396.60" y2="617.40" stroke="#2a2a2a" stroke-width="0.6" />
<line x1="333.60" y1="649.40" x2="351.60" y2="639.43" stroke="#2a2a2a" stroke-width="0.6" />
<line x1="378.60" y1="624.48" x2="393.00" y2="616.50" stroke="#2a2a2a" stroke-width="0.6" />
<polygon points="333.60,649.40 339.73,643.95 341.47,647.10" fill="#111" stroke="none" stroke-width="0"/>
<polygon points="393.00,616.50 386.87,621.95 385.13,618.80" fill="#111" stroke="none" stroke-width="0"/>
<line x1="318.30" y1="641.70" x2="335.40" y2="651.60" stroke="#2a2a2a" stroke-width="0.6" />
<text x="370.80" y="524.20" font-size="14.2" text-anchor="start" fill="#0a0a0a" textLength="23.5" lengthAdjust="spacing" stroke="#fff" stroke-width="0.16" paint-order="fill stroke" >564</text>
<text x="347.00" y="535.90" font-size="14.2" text-anchor="start" fill="#0a0a0a" textLength="23.5" lengthAdjust="spacing" stroke="#fff" stroke-width="0.16" paint-order="fill stroke" >545</text>
<text x="298.80" y="552.10" font-size="14.2" text-anchor="start" fill="#0a0a0a" textLength="23.5" lengthAdjust="spacing" stroke="#ababab" stroke-width="0.16" paint-order="fill stroke" >560</text>
<text x="263.80" y="598.50" font-size="14.2" text-anchor="start" fill="#0a0a0a" textLength="23.5" lengthAdjust="spacing" stroke="#9c9c9c" stroke-width="0.16" paint-order="fill stroke" >445</text>
<text x="383.00" y="591.70" font-size="14.2" text-anchor="start" fill="#0a0a0a" textLength="23.5" lengthAdjust="spacing" stroke="#fff" stroke-width="0.16" paint-order="fill stroke" >458</text>
<text x="354.60" y="636.30" font-size="14.2" text-anchor="start" fill="#0a0a0a" textLength="23.5" lengthAdjust="spacing" stroke="#fff" stroke-width="0.16" paint-order="fill stroke" >597</text>
</g>
</svg>
</body></html>
